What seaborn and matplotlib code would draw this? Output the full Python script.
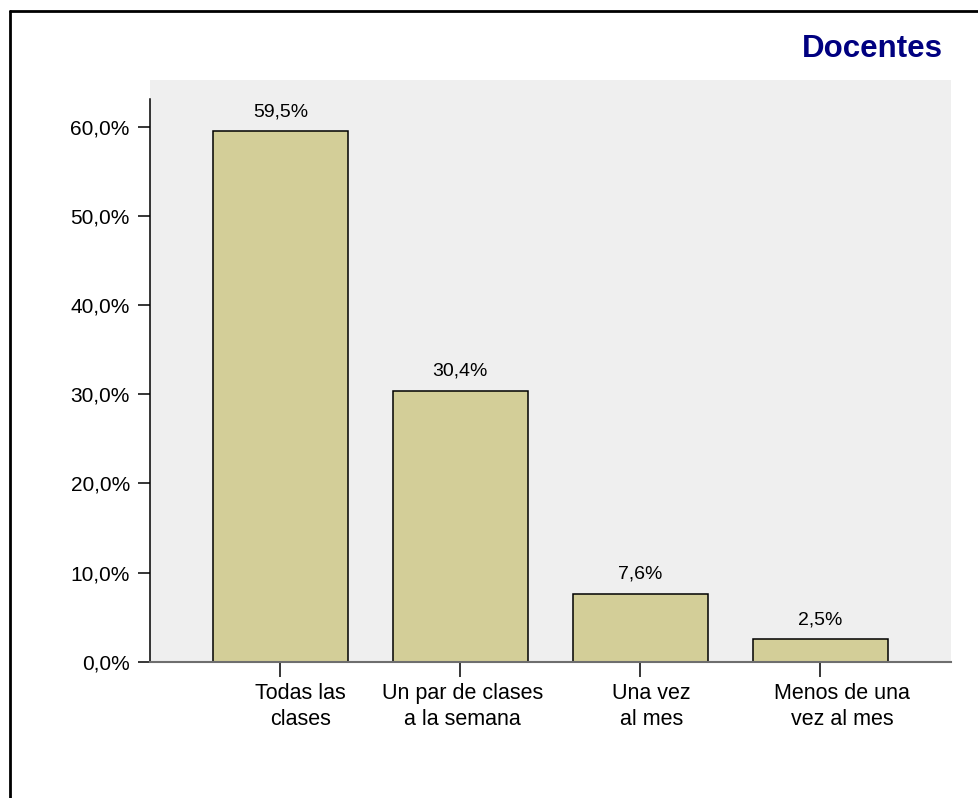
import matplotlib
matplotlib.use("Agg")
import matplotlib.pyplot as plt
import matplotlib.transforms as mtransforms
from matplotlib.lines import Line2D
import seaborn as sns
import pandas as pd

categories = ["Todas las\nclases", "Un par de clases\na la semana", "Una vez\nal mes", "Menos de una\nvez al mes"]
values = [59.5, 30.4, 7.6, 2.5]
yticks = [0, 10, 20, 30, 40, 50, 60]
title = "Docentes"

sns.set_theme(style="white")
plt.rcParams["font.family"] = ["Liberation Sans", "DejaVu Sans"]
plt.rcParams["text.color"] = "black"
plt.rcParams["xtick.color"] = "black"
plt.rcParams["ytick.color"] = "black"
plt.rcParams["axes.labelcolor"] = "black"

W, H = 979, 798
fig = plt.figure(figsize=(W / 100, H / 100), dpi=100)
ax = fig.add_axes([150 / W, (H - 661.7) / H, (951 - 150) / W, (661.7 - 80) / H])
ax.set_facecolor("#EFEFEF")

df = pd.DataFrame({"cat": categories, "val": values})
sns.barplot(data=df, x="cat", y="val", color="#D3CE98", width=0.753,
            edgecolor="black", linewidth=1.1, saturation=1, ax=ax)
for p in ax.patches:
    p.set_facecolor("#D3CE98")

ax.set_xlim(-0.724, 3.726)
ax.set_ylim(0, 65.24)
ax.set_xlabel("")
ax.set_ylabel("")

ax.set_yticks(yticks)
ax.set_yticklabels([f"{v:.1f}".replace(".", ",") + "%" for v in yticks], fontsize=15, color="black")
ax.tick_params(axis="y", length=9, width=1.1, color="black", labelcolor="black", pad=5.5, left=True)
ax.tick_params(axis="x", length=11, width=1.1, color="black", labelcolor="black", pad=4.5, bottom=True,
               labelsize=15.5)
for lab in ax.get_xticklabels():
    lab.set_linespacing(1.3)

offsets_px = [20, 2, 11, 22]
for lab, off in zip(ax.get_xticklabels(), offsets_px):
    lab.set_transform(lab.get_transform() + mtransforms.ScaledTranslation(off / 100, 0, fig.dpi_scale_trans))

for s in ["top", "right"]:
    ax.spines[s].set_visible(False)
ax.spines["left"].set_color("black")
ax.spines["left"].set_linewidth(1.1)
ax.spines["left"].set_bounds(0, 63.1)
ax.spines["bottom"].set_color("#6E6E6E")
ax.spines["bottom"].set_linewidth(1.5)

for c in ax.containers:
    ax.bar_label(c, labels=[f"{v:.1f}".replace(".", ",") + "%" for v in values],
                 padding=8, fontsize=14, color="black")

fig.text(943 / W, (H - 57.3) / H, title, ha="right", va="baseline",
         fontsize=22.5, fontweight="bold", color="#000080")

# outer frame (top and left edges visible)
fig.add_artist(Line2D([10 / W, 1.0], [(H - 11) / H] * 2, color="black", lw=2, transform=fig.transFigure))
fig.add_artist(Line2D([10 / W] * 2, [0, (H - 11) / H], color="black", lw=2, transform=fig.transFigure))

fig.savefig("out.png", dpi=100)
